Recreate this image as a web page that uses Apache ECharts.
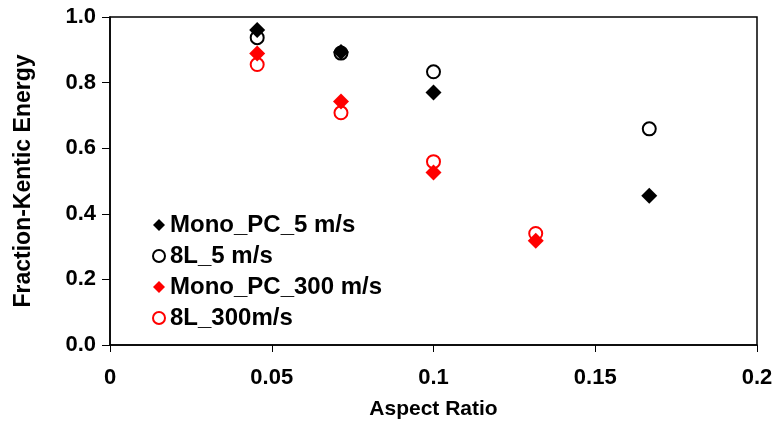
<!DOCTYPE html>
<html>
<head>
<meta charset="utf-8">
<script src="https://cdn.jsdelivr.net/npm/echarts@6/dist/echarts.min.js"></script>
<style>
  html, body { margin: 0; padding: 0; background: #fff; }
  #chart { width: 782px; height: 432px; }
</style>
</head>
<body>
<div id="chart"></div>
<script>
// Aspect ratio of each configuration and the kinetic-energy fraction retained
const monoPC5X = [0.0455, 0.0714, 0.1, 0.1667];
const monoPC5Y = [0.960, 0.893, 0.770, 0.455];
const l8_5X = [0.0455, 0.0714, 0.1, 0.1667];
const l8_5Y = [0.937, 0.890, 0.833, 0.659];
const monoPC300X = [0.0455, 0.0714, 0.1, 0.1316];
const monoPC300Y = [0.889, 0.742, 0.526, 0.318];
const l8_300X = [0.0455, 0.0714, 0.1, 0.1316];
const l8_300Y = [0.855, 0.708, 0.559, 0.340];

const seriesNames = ['Mono_PC_5 m/s', '8L_5 m/s', 'Mono_PC_300 m/s', '8L_300m/s'];

const pairs = (xs, ys) => xs.map((x, i) => [x, ys[i]]);
const FONT = '"Liberation Sans", Arial, sans-serif';

const chart = echarts.init(document.getElementById('chart'));

const diamond = (name, xs, ys, color) => ({
  name, type: 'scatter', symbol: 'diamond', symbolSize: 16,
  data: pairs(xs, ys),
  itemStyle: { color, opacity: 1 }
});
const ring = (name, xs, ys, color) => ({
  name, type: 'scatter', symbol: 'circle', symbolSize: 13,
  data: pairs(xs, ys),
  itemStyle: { color: 'rgba(255,255,255,0)', borderColor: color, borderWidth: 2, opacity: 1 }
});

chart.setOption({
  animation: false,
  backgroundColor: '#fff',
  grid: {
    left: 110, right: 25, top: 17, bottom: 87,
    show: true, borderColor: '#000', borderWidth: 1.5, backgroundColor: 'transparent'
  },
  legend: {
    orient: 'vertical', left: 147, top: 208,
    itemWidth: 12, itemHeight: 12, itemGap: 7,
    textStyle: { fontFamily: FONT, fontWeight: 'bold', fontSize: 24, color: '#000' },
    data: seriesNames
  },
  xAxis: {
    type: 'value', min: 0, max: 0.2, interval: 0.05,
    name: 'Aspect Ratio', nameLocation: 'middle', nameGap: 54,
    nameTextStyle: { fontFamily: FONT, fontWeight: 'bold', fontSize: 21, color: '#000' },
    axisLine: { show: true, lineStyle: { color: '#000', width: 1.5 } },
    axisTick: { show: true, inside: false, length: 7, lineStyle: { color: '#000', width: 1 } },
    axisLabel: {
      margin: 22, fontFamily: FONT, fontWeight: 'bold', fontSize: 22, color: '#000',
      formatter: v => String(+v.toFixed(2))
    },
    splitLine: { show: false }
  },
  yAxis: {
    type: 'value', min: 0, max: 1, interval: 0.2,
    name: 'Fraction-Kentic Energy', nameLocation: 'middle', nameGap: 75,
    nameTextStyle: { fontFamily: FONT, fontWeight: 'bold', fontSize: 23, color: '#000' },
    axisLine: { show: true, lineStyle: { color: '#000', width: 1.5 } },
    axisTick: { show: true, inside: false, length: 8, lineStyle: { color: '#000', width: 1 } },
    axisLabel: {
      margin: 14, fontFamily: FONT, fontWeight: 'bold', fontSize: 22, color: '#000',
      formatter: v => v.toFixed(1)
    },
    splitLine: { show: false }
  },
  series: [
    diamond(seriesNames[0], monoPC5X, monoPC5Y, '#000'),
    ring(seriesNames[1], l8_5X, l8_5Y, '#000'),
    diamond(seriesNames[2], monoPC300X, monoPC300Y, '#ff0000'),
    ring(seriesNames[3], l8_300X, l8_300Y, '#ff0000')
  ]
});
</script>
</body>
</html>
